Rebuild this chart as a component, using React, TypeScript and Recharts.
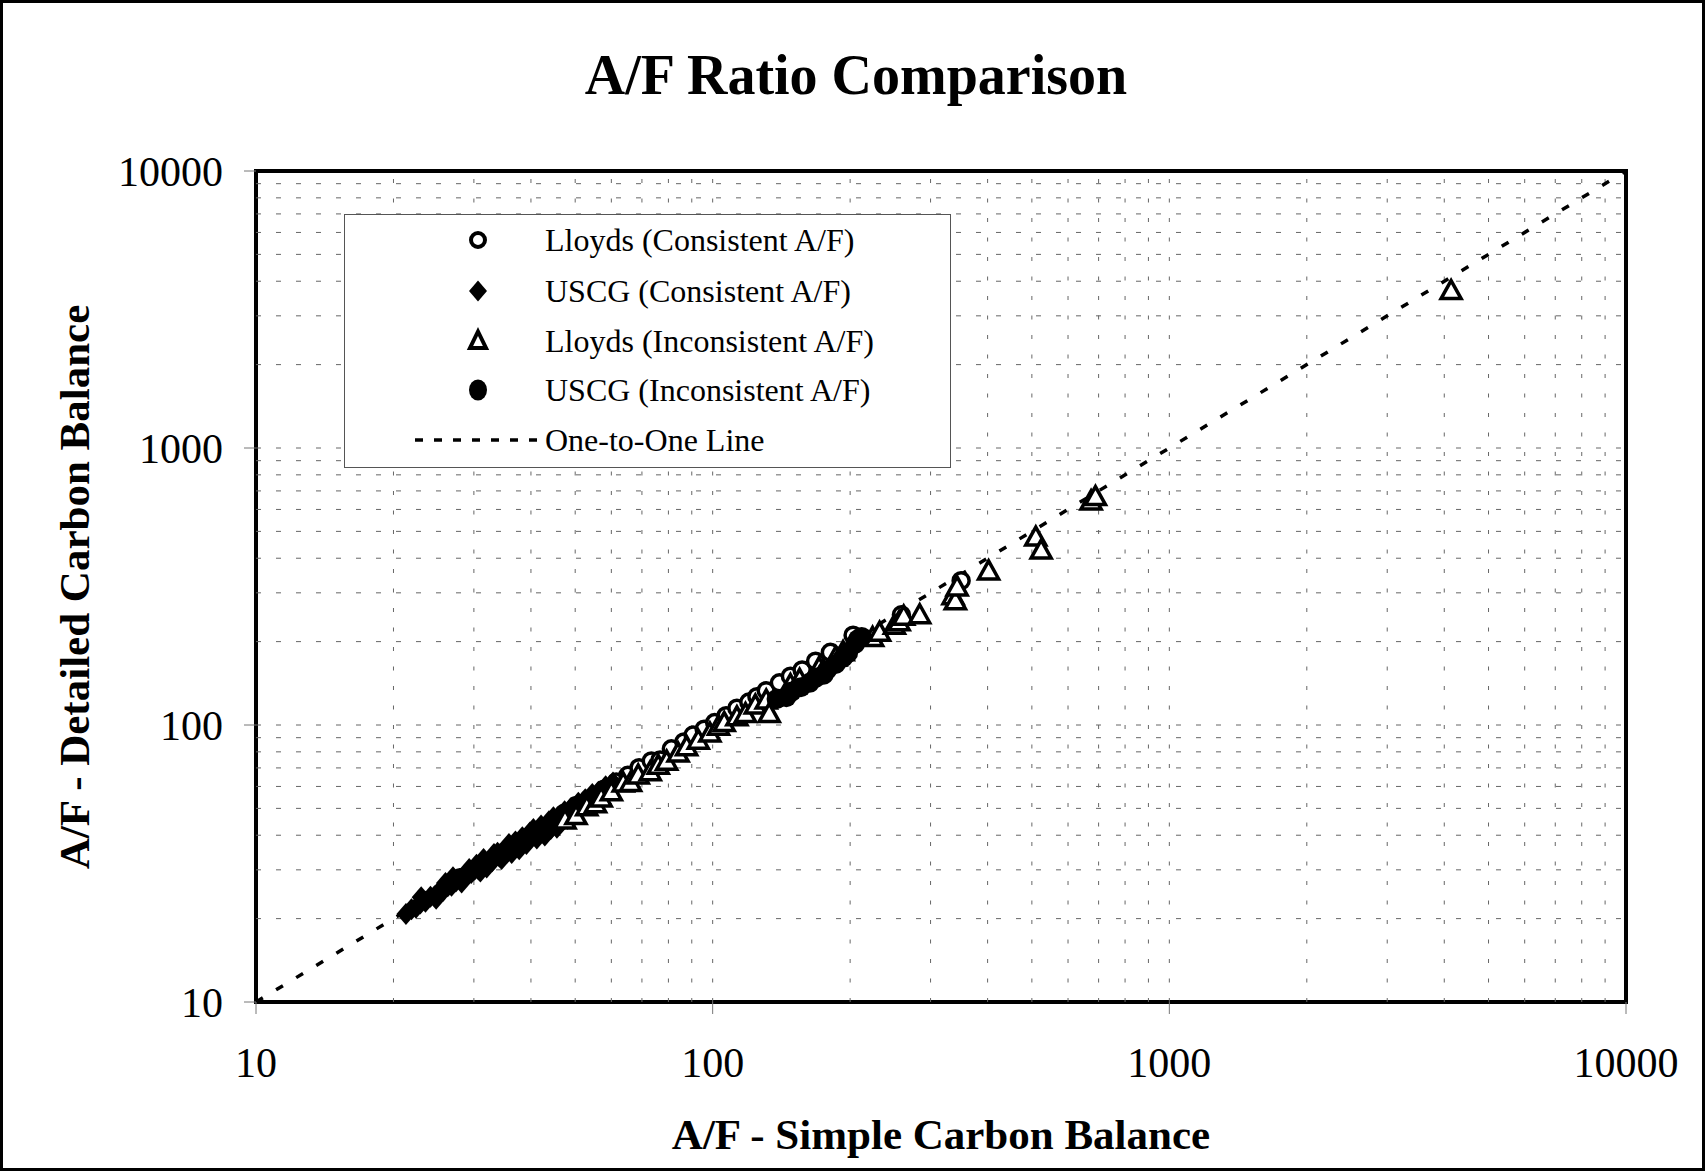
import React from 'react';
import { ScatterChart, Scatter, XAxis, YAxis, ReferenceLine, ReferenceArea, Legend } from 'recharts';

const FONT = '"Liberation Serif", "Times New Roman", Times, serif';

const TITLE = 'A/F Ratio Comparison';
const X_TITLE = 'A/F - Simple Carbon Balance';
const Y_TITLE = 'A/F - Detailed Carbon Balance';

const AXIS_TICKS = [10, 100, 1000, 10000];
const GRID_VALUES = [20, 30, 40, 50, 60, 70, 80, 90, 100, 200, 300, 400, 500, 600, 700, 800, 900, 1000, 2000, 3000, 4000, 5000, 6000, 7000, 8000, 9000];

const lloydsConsistent = [
  { x: 28.0, y: 28.1 }, { x: 34.6, y: 34.5 }, { x: 47.2, y: 47.9 }, { x: 50.3, y: 51.2 }, { x: 53.6, y: 54.1 },
  { x: 57.8, y: 58.6 }, { x: 61.5, y: 62.3 }, { x: 65.2, y: 65.8 }, { x: 69.0, y: 70.1 }, { x: 73.4, y: 74.2 },
  { x: 76.7, y: 74.8 }, { x: 81.2, y: 82.0 }, { x: 86.5, y: 86.9 }, { x: 90.6, y: 92.0 }, { x: 95.8, y: 96.6 },
  { x: 101, y: 102 }, { x: 107, y: 108 }, { x: 113, y: 115 }, { x: 120, y: 121 }, { x: 125, y: 126.5 },
  { x: 131, y: 133 }, { x: 140, y: 142 }, { x: 148, y: 150 }, { x: 157, y: 158 }, { x: 168, y: 170 },
  { x: 181, y: 183 }, { x: 203, y: 211 }, { x: 259, y: 250 }, { x: 350, y: 332 },
];

const uscgConsistent = [
  { x: 21.3, y: 20.8 }, { x: 21.9, y: 21.6 }, { x: 22.4, y: 21.9 }, { x: 22.9, y: 22.7 }, { x: 23.0, y: 23.9 },
  { x: 23.5, y: 23.0 }, { x: 24.1, y: 24.0 }, { x: 24.6, y: 24.1 }, { x: 24.8, y: 23.6 }, { x: 25.2, y: 25.1 },
  { x: 25.7, y: 25.2 }, { x: 26.0, y: 26.9 }, { x: 26.3, y: 26.2 }, { x: 26.8, y: 26.3 }, { x: 27.0, y: 28.2 },
  { x: 27.4, y: 27.2 }, { x: 27.9, y: 27.8 }, { x: 28.2, y: 27.0 }, { x: 28.5, y: 28.1 }, { x: 29.0, y: 29.1 },
  { x: 29.3, y: 30.2 }, { x: 29.6, y: 29.2 }, { x: 30.1, y: 30.0 }, { x: 30.4, y: 31.3 }, { x: 30.7, y: 30.1 },
  { x: 31.0, y: 29.6 }, { x: 31.2, y: 31.1 }, { x: 31.5, y: 32.8 }, { x: 31.8, y: 31.2 }, { x: 32.0, y: 30.6 },
  { x: 32.4, y: 32.3 }, { x: 32.9, y: 32.2 }, { x: 33.2, y: 34.2 }, { x: 33.5, y: 33.4 }, { x: 33.8, y: 34.6 },
  { x: 34.1, y: 33.5 }, { x: 34.5, y: 32.8 }, { x: 34.8, y: 34.7 }, { x: 35.4, y: 34.6 }, { x: 35.8, y: 37.2 },
  { x: 36.0, y: 35.9 }, { x: 36.3, y: 34.5 }, { x: 36.7, y: 35.8 }, { x: 37.0, y: 38.0 }, { x: 37.3, y: 37.1 },
  { x: 37.7, y: 35.6 }, { x: 38.0, y: 37.0 }, { x: 38.3, y: 39.3 }, { x: 38.7, y: 38.4 }, { x: 39.1, y: 37.2 },
  { x: 39.4, y: 38.5 }, { x: 39.8, y: 40.9 }, { x: 40.1, y: 39.7 }, { x: 40.5, y: 42.1 }, { x: 40.9, y: 39.8 },
  { x: 41.2, y: 38.9 }, { x: 41.7, y: 41.1 }, { x: 42.1, y: 43.4 }, { x: 42.5, y: 40.9 }, { x: 42.9, y: 39.9 },
  { x: 43.3, y: 42.4 }, { x: 43.8, y: 44.9 }, { x: 44.2, y: 42.1 }, { x: 44.8, y: 46.4 }, { x: 45.1, y: 43.9 },
  { x: 45.6, y: 42.6 }, { x: 46.0, y: 43.6 }, { x: 46.6, y: 47.3 }, { x: 47.4, y: 48.8 }, { x: 48.1, y: 45.9 },
  { x: 49.0, y: 50.3 }, { x: 50.8, y: 52.4 }, { x: 52.6, y: 54.0 }, { x: 54.5, y: 56.3 }, { x: 56.2, y: 57.4 },
  { x: 58.3, y: 60.1 }, { x: 60.5, y: 62.0 },
];

const lloydsInconsistent = [
  { x: 47.5, y: 45.4 }, { x: 50.2, y: 47.1 }, { x: 53.0, y: 50.7 }, { x: 55.4, y: 52.0 }, { x: 57.0, y: 54.5 },
  { x: 60.0, y: 57.4 }, { x: 63.7, y: 61.7 }, { x: 66.1, y: 62.0 }, { x: 68.7, y: 66.0 }, { x: 73.0, y: 67.8 },
  { x: 76.0, y: 71.5 }, { x: 79.3, y: 74.0 }, { x: 84.0, y: 79.2 }, { x: 87.7, y: 83.5 }, { x: 93.0, y: 88.1 },
  { x: 98.6, y: 93.5 }, { x: 103, y: 99 }, { x: 106, y: 102 }, { x: 113, y: 107 }, { x: 118, y: 110 },
  { x: 124, y: 118 }, { x: 131, y: 123 }, { x: 133, y: 110 }, { x: 148, y: 140 }, { x: 155, y: 146 },
  { x: 171, y: 161 }, { x: 186, y: 176 }, { x: 193, y: 184 }, { x: 224, y: 207 }, { x: 232, y: 216 },
  { x: 250, y: 229 }, { x: 256, y: 236 }, { x: 262, y: 247 }, { x: 284, y: 250 }, { x: 336, y: 293 },
  { x: 340, y: 281 }, { x: 343, y: 315 }, { x: 402, y: 360 }, { x: 510, y: 477 }, { x: 524, y: 428 },
  { x: 674, y: 644 }, { x: 689, y: 668 }, { x: 4140, y: 3700 },
];

const uscgInconsistent = [
  { x: 138, y: 124 }, { x: 145, y: 126 }, { x: 149, y: 132 }, { x: 156, y: 137 }, { x: 163, y: 142 },
  { x: 168, y: 148 }, { x: 175, y: 152 }, { x: 178, y: 158 }, { x: 186, y: 166 }, { x: 193, y: 175 },
  { x: 198, y: 182 }, { x: 205, y: 196 }, { x: 208, y: 204 }, { x: 212, y: 208 },
];

const oneToOne = [{ x: 10, y: 10 }, { x: 10000, y: 10000 }];

const SERIES_NAMES = [
  'Lloyds (Consistent A/F)',
  'USCG (Consistent A/F)',
  'Lloyds (Inconsistent A/F)',
  'USCG (Inconsistent A/F)',
  'One-to-One Line',
];

const OpenCircle = (p: any) => (
  <circle cx={p.cx} cy={p.cy} r={8} fill="#fff" stroke="#000" strokeWidth={3.5} />
);
const FilledDiamond = (p: any) => (
  <polygon
    points={`${p.cx},${p.cy - 11} ${p.cx + 9.5},${p.cy} ${p.cx},${p.cy + 11} ${p.cx - 9.5},${p.cy}`}
    fill="#000"
  />
);
const OpenTriangle = (p: any) => (
  <polygon
    points={`${p.cx},${p.cy - 10} ${p.cx + 10},${p.cy + 8} ${p.cx - 10},${p.cy + 8}`}
    fill="#fff"
    stroke="#000"
    strokeWidth={3.5}
  />
);
const FilledCircle = (p: any) => <circle cx={p.cx} cy={p.cy} r={10} fill="#000" />;
const NoShape = () => <g />;

const ROW_Y = [26, 77, 127, 176, 226];

const LegendBox = () => (
  <div
    style={{
      position: 'relative',
      width: 607,
      height: 254,
      background: '#fff',
      border: '1.5px solid #555',
      boxSizing: 'border-box',
      fontFamily: FONT,
      fontSize: 32,
      color: '#000',
    }}
  >
    <svg width={607} height={254} style={{ position: 'absolute', left: -1.5, top: -1.5 }}>
      <circle cx={134} cy={ROW_Y[0]} r={7} fill="#fff" stroke="#000" strokeWidth={4} />
      <polygon points={`134,${ROW_Y[1] - 10.5} 143,${ROW_Y[1]} 134,${ROW_Y[1] + 10.5} 125,${ROW_Y[1]}`} fill="#000" />
      <polygon points={`134,${ROW_Y[2] - 9.5} 142,${ROW_Y[2] + 7} 126,${ROW_Y[2] + 7}`} fill="#fff" stroke="#000" strokeWidth={4} />
      <ellipse cx={134} cy={ROW_Y[3]} rx={9} ry={10.5} fill="#000" />
      <line x1={71} y1={ROW_Y[4]} x2={200} y2={ROW_Y[4]} stroke="#000" strokeWidth={3.5} strokeDasharray="8 11" />
    </svg>
    {SERIES_NAMES.map((name, i) => (
      <span
        key={name}
        style={{
          position: 'absolute',
          left: 200,
          top: ROW_Y[i] - 1.5,
          transform: 'translateY(-50%)',
          lineHeight: 1,
          whiteSpace: 'nowrap',
        }}
      >
        {name}
      </span>
    ))}
  </div>
);

export default function App() {
  const tickStyle = { fill: '#000', fontSize: 42, fontFamily: FONT };
  return (
    <div style={{ position: 'absolute', left: 0, top: 0, width: 1705, height: 1171, background: '#fff', fontFamily: FONT }}>
      <ScatterChart width={1705} height={1171} margin={{ top: 171, right: 79, bottom: 109, left: 136 }}>
        <XAxis
          type="number"
          dataKey="x"
          scale="log"
          domain={[10, 10000]}
          ticks={AXIS_TICKS}
          allowDataOverflow
          height={60}
          axisLine={false}
          tickLine={{ stroke: '#777', strokeWidth: 1 }}
          tickSize={12}
          tickMargin={33}
          tick={tickStyle}
          interval={0}
        />
        <YAxis
          type="number"
          dataKey="y"
          scale="log"
          domain={[10, 10000]}
          ticks={AXIS_TICKS}
          allowDataOverflow
          width={120}
          axisLine={false}
          tickLine={{ stroke: '#777', strokeWidth: 1 }}
          tickSize={12}
          tickMargin={21}
          tick={tickStyle}
          interval={0}
        />
        {GRID_VALUES.map((v) => (
          <ReferenceLine key={'gx' + v} x={v} stroke="#666" strokeWidth={1} strokeDasharray="4 15.5" />
        ))}
        {GRID_VALUES.map((v) => (
          <ReferenceLine key={'gy' + v} y={v} stroke="#666" strokeWidth={1} strokeDasharray="5 15" />
        ))}
        <Scatter
          name={SERIES_NAMES[4]}
          data={oneToOne}
          line={{ stroke: '#000', strokeWidth: 3.5, strokeDasharray: '8 15.5' }}
          shape={NoShape}
          isAnimationActive={false}
        />
        <Scatter name={SERIES_NAMES[0]} data={lloydsConsistent} shape={OpenCircle} isAnimationActive={false} />
        <Scatter name={SERIES_NAMES[1]} data={uscgConsistent} shape={FilledDiamond} isAnimationActive={false} />
        <Scatter name={SERIES_NAMES[2]} data={lloydsInconsistent} shape={OpenTriangle} isAnimationActive={false} />
        <Scatter name={SERIES_NAMES[3]} data={uscgInconsistent} shape={FilledCircle} isAnimationActive={false} />
        <ReferenceArea x1={10} x2={10000} y1={10} y2={10000} fill="none" fillOpacity={0} stroke="#000" strokeWidth={4} ifOverflow="visible" />
        <Legend
          layout="vertical"
          align="center"
          verticalAlign="middle"
          content={LegendBox}
          wrapperStyle={{ position: 'absolute', left: 344, top: 214, width: 607, height: 254, margin: 0 }}
        />
      </ScatterChart>
      <div
        style={{
          position: 'absolute',
          left: 856,
          top: 75,
          transform: 'translate(-50%, -50%)',
          fontSize: 56,
          fontWeight: 'bold',
          whiteSpace: 'nowrap',
          lineHeight: 1,
          color: '#000',
        }}
      >
        {TITLE}
      </div>
      <div
        style={{
          position: 'absolute',
          left: 941,
          top: 1134,
          transform: 'translate(-50%, -50%)',
          fontSize: 43,
          fontWeight: 'bold',
          whiteSpace: 'nowrap',
          lineHeight: 1,
          color: '#000',
        }}
      >
        {X_TITLE}
      </div>
      <div
        style={{
          position: 'absolute',
          left: 74,
          top: 587,
          transform: 'translate(-50%, -50%) rotate(-90deg)',
          fontSize: 43,
          fontWeight: 'bold',
          whiteSpace: 'nowrap',
          lineHeight: 1,
          color: '#000',
        }}
      >
        {Y_TITLE}
      </div>
      <div
        style={{
          position: 'absolute',
          left: 0,
          top: 0,
          width: 1705,
          height: 1171,
          border: '3px solid #000',
          boxSizing: 'border-box',
          pointerEvents: 'none',
        }}
      />
    </div>
  );
}
